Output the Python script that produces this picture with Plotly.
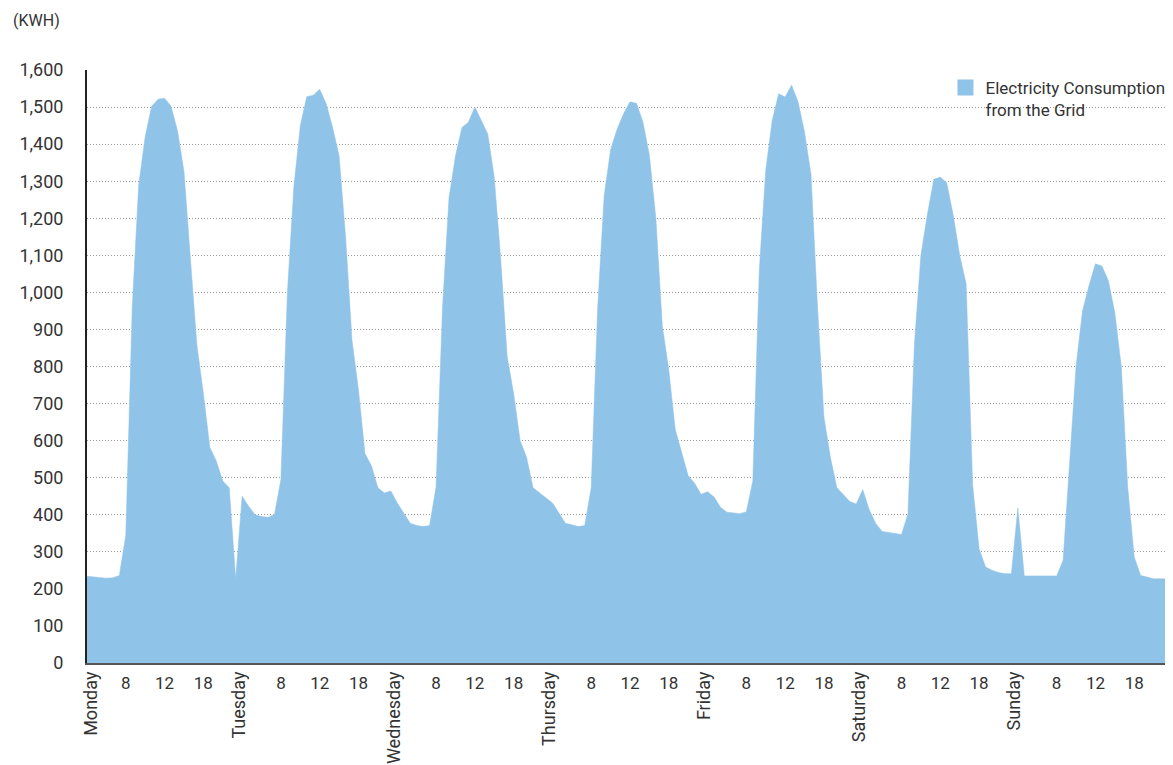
import plotly.graph_objects as go

# Hourly electricity consumption from the grid (kWh), Monday 0:00 .. next Monday 0:00
monday = [234, 232, 229, 229, 230, 236, 345, 960, 1290, 1420, 1502, 1521,
          1524, 1502, 1436, 1327, 1090, 859, 727, 582, 545, 491, 473, 227]
tuesday = [450, 423, 400, 395, 393, 400, 495, 1000, 1285, 1450, 1528, 1532,
           1548, 1509, 1445, 1368, 1150, 870, 736, 565, 532, 473, 459, 464]
wednesday = [432, 405, 377, 371, 368, 371, 475, 960, 1255, 1368, 1445, 1459,
             1500, 1464, 1427, 1310, 1090, 827, 727, 600, 555, 473, 459, 445]
thursday = [432, 405, 377, 373, 368, 371, 473, 960, 1260, 1385, 1440, 1482,
            1514, 1510, 1460, 1370, 1200, 910, 790, 630, 570, 505, 485, 455]
friday = [462, 448, 420, 407, 405, 403, 408, 491, 1060, 1330, 1464, 1536,
          1527, 1559, 1514, 1432, 1318, 964, 664, 555, 473, 455, 436, 429]
saturday = [468, 414, 377, 355, 352, 350, 347, 402, 860, 1100, 1210, 1305,
            1311, 1295, 1209, 1100, 1023, 482, 309, 259, 250, 244, 241, 241]
sunday = [418, 235, 235, 235, 235, 235, 235, 277, 550, 800, 950, 1018,
          1077, 1071, 1032, 945, 800, 473, 286, 236, 232, 227, 227, 227]
next_midnight = [236]

values = monday + tuesday + wednesday + thursday + friday + saturday + sunday + next_midnight
hours = list(range(len(values)))

day_names = ["Monday", "Tuesday", "Wednesday", "Thursday", "Friday", "Saturday", "Sunday"]
day_ticks = [0.6, 23.5, 47.5, 71.5, 95.5, 119.5, 143.5]
hour_labels = ["8", "12", "18"]
hour_offsets = [6, 12, 18]

hour_tickvals = [24 * d + o for d in range(7) for o in hour_offsets]
hour_ticktext = [lab for d in range(7) for lab in hour_labels]

y_ticks = list(range(0, 1601, 100))
y_ticktext = [f"{v:,}" for v in y_ticks]

FILL = "#8FC3E8"
TEXT = "#333333"
FONT = "Roboto"

PLOT_W = 1086
PLOT_H = 593
TOP = 62

fig = go.Figure()
fig.add_trace(go.Scatter(
    x=hours, y=values, mode="lines", fill="tozeroy",
    fillcolor=FILL, line=dict(color=FILL, width=0.5),
    showlegend=False, hoverinfo="skip",
))
# legend entry
fig.add_trace(go.Scatter(
    x=[None], y=[None], mode="markers",
    marker=dict(symbol="square", size=18, color=FILL),
    name="Electricity Consumption<br>from the Grid",
))
# helper trace for the day-name axis
fig.add_trace(go.Scatter(
    x=[0, 168], y=[None, None], xaxis="x2", mode="lines",
    showlegend=False, hoverinfo="skip",
))

fig.update_layout(
    width=1173, height=765,
    margin=dict(l=79, r=8, t=TOP, b=110),
    paper_bgcolor="white", plot_bgcolor="white",
    font=dict(family=FONT, size=17, color=TEXT),
    xaxis=dict(
        range=[0, 168], tickmode="array",
        tickvals=hour_tickvals, ticktext=hour_ticktext,
        tickangle=0, showgrid=False, zeroline=False,
        showline=True, linecolor="#555555", linewidth=2,
        ticks="", ticklabelstandoff=4,
        tickfont=dict(family=FONT, size=17, color=TEXT),
    ),
    xaxis2=dict(
        range=[0, 168], overlaying="x", anchor="y", side="bottom",
        tickmode="array", tickvals=day_ticks, ticktext=day_names,
        tickangle=-90, showgrid=False, zeroline=False, showline=False,
        ticks="", ticklabelstandoff=4,
        tickfont=dict(family=FONT, size=18, color=TEXT),
    ),
    yaxis=dict(
        range=[0, 1600], tickmode="array",
        tickvals=y_ticks, ticktext=y_ticktext,
        showgrid=True, gridcolor="#999999", griddash="1px,2px", gridwidth=1,
        zeroline=False, showline=True, linecolor="#222222", linewidth=2,
        ticks="", ticklabelstandoff=18,
        tickfont=dict(family=FONT, size=18, color=TEXT),
    ),
    legend=dict(
        x=0.7905, y=1.0, xanchor="left", yanchor="top",
        bgcolor="rgba(0,0,0,0)", valign="top",
        font=dict(family=FONT, size=17, color=TEXT),
    ),
    annotations=[dict(
        text="(KWH)", xref="paper", yref="paper",
        x=-76 / PLOT_W, y=1 + (TOP - 1) / PLOT_H, xanchor="left", yanchor="top",
        showarrow=False, font=dict(family=FONT, size=16, color=TEXT),
    )],
)

fig.write_html("out.html")
